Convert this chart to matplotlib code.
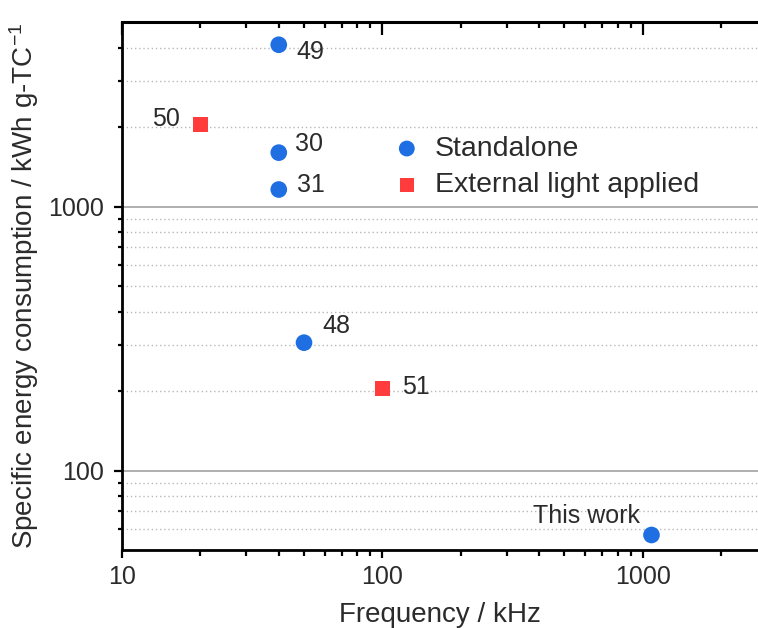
import matplotlib
matplotlib.use("Agg")
import matplotlib.pyplot as plt
from matplotlib.ticker import FixedLocator, FixedFormatter, NullFormatter

plt.rcParams['font.family'] = ['Liberation Sans', 'DejaVu Sans']
plt.rcParams['mathtext.fontset'] = 'custom'
plt.rcParams['mathtext.rm'] = 'Liberation Sans'
plt.rcParams['mathtext.default'] = 'regular'

# Reported devices: frequency (kHz) and specific energy consumption (kWh g-TC^-1)
standalone_refs = ["49", "30", "31", "48", "This work"]
standalone_freq = [40, 40, 40, 50, 1080]
standalone_sec = [4100, 1600, 1160, 305, 57]

light_refs = ["50", "51"]
light_freq = [20, 100]
light_sec = [2050, 205]

series_names = ["Standalone", "External light applied"]

x_major = [10, 100, 1000]
x_major_labels = ["10", "100", "1000"]
y_major = [100, 1000]
y_major_labels = ["100", "1000"]

BLUE = "#1f6fe3"
RED = "#ff3b3b"
TXT = "#2b2b2b"

W, H = 758, 628
fig = plt.figure(figsize=(W / 100, H / 100), dpi=100)
ax = fig.add_axes([122 / W, 1 - 550 / H, 636 / W, 528 / H])
ax.set_xscale("log")
ax.set_yscale("log")
ax.set_xlim(10, 2770)
ax.set_ylim(50, 5000)

# grid: solid major lines, dotted minor lines
y_minor = [60, 70, 80, 90] + list(range(200, 1000, 100)) + [2000, 3000, 4000]
x_minor = [v * d for d in (10, 100, 1000) for v in range(2, 10) if v * d < 2770]
ax.yaxis.set_major_locator(FixedLocator(y_major))
ax.yaxis.set_major_formatter(FixedFormatter(y_major_labels))
ax.yaxis.set_minor_locator(FixedLocator(y_minor))
ax.yaxis.set_minor_formatter(NullFormatter())
ax.xaxis.set_major_locator(FixedLocator(x_major))
ax.xaxis.set_major_formatter(FixedFormatter(x_major_labels))
ax.xaxis.set_minor_locator(FixedLocator(x_minor))
ax.xaxis.set_minor_formatter(NullFormatter())

ax.grid(False)
for yv in y_major:
    ax.axhline(yv, color="#9a9a9a", lw=1.1, zorder=0.5)
for yv in y_minor:
    ax.axhline(yv, color="#b8b8b8", lw=1.0, ls=(0, (1, 2)), zorder=0.5)

for side in ("left", "bottom", "top"):
    ax.spines[side].set_linewidth(2.0)
    ax.spines[side].set_color("black")
ax.spines["right"].set_visible(False)

ax.tick_params(axis="y", which="major", direction="out", length=6, width=1.6,
               labelsize=18, labelcolor=TXT, pad=7, right=False)
ax.tick_params(axis="y", which="minor", direction="out", length=3, width=1.6, right=False)
ax.tick_params(axis="x", which="major", direction="out", length=6, width=1.6,
               labelsize=18, labelcolor=TXT, pad=5, top=False)
ax.tick_params(axis="x", which="minor", direction="out", length=4, width=1.6, top=False)

# inward ticks along the top edge
top = ax.secondary_xaxis("top")
top.xaxis.set_major_locator(FixedLocator(x_major))
top.xaxis.set_minor_locator(FixedLocator(x_minor))
top.xaxis.set_major_formatter(NullFormatter())
top.xaxis.set_minor_formatter(NullFormatter())
top.tick_params(which="major", direction="in", length=9, width=1.6)
top.tick_params(which="minor", direction="in", length=4.5, width=1.6)
top.spines["top"].set_linewidth(2.2)

ax.scatter(standalone_freq, standalone_sec, s=12 ** 2, marker="o", color=BLUE,
           edgecolors="none", zorder=3, label=series_names[0])
ax.scatter(light_freq, light_sec, s=11 ** 2, marker="s", color=RED,
           edgecolors="none", zorder=3, label=series_names[1])

# reference labels next to each point (offsets in points)
std_offsets = {"49": (13, -5), "30": (12, 6), "31": (13, 3), "48": (13, 12),
               "This work": (-8, 14)}
light_offsets = {"50": (-15, 4), "51": (14, 1)}
for ref, fx, sy in zip(standalone_refs, standalone_freq, standalone_sec):
    dx, dy = std_offsets[ref]
    ax.annotate(ref, (fx, sy), xytext=(dx, dy), textcoords="offset points",
                ha="right" if dx < 0 else "left", va="center",
                fontsize=18, color=TXT)
for ref, fx, sy in zip(light_refs, light_freq, light_sec):
    dx, dy = light_offsets[ref]
    ax.annotate(ref, (fx, sy), xytext=(dx, dy), textcoords="offset points",
                ha="right" if dx < 0 else "left", va="center",
                fontsize=18, color=TXT)

ax.legend(loc="upper left", bbox_to_anchor=((394 - 122) / 636, (550 - 136) / 528),
          frameon=False, fontsize=20.5, handlelength=0.9, handletextpad=0.53,
          labelspacing=0.36, borderpad=0, borderaxespad=0, labelcolor=TXT,
          markerscale=0.95)

ax.set_xlabel("Frequency / kHz", fontsize=20, color=TXT, labelpad=9)
ax.set_ylabel("Specific energy consumption / kWh g-TC$^{-1}$", fontsize=20,
              color=TXT, labelpad=5)

fig.savefig("out.png", dpi=100)
